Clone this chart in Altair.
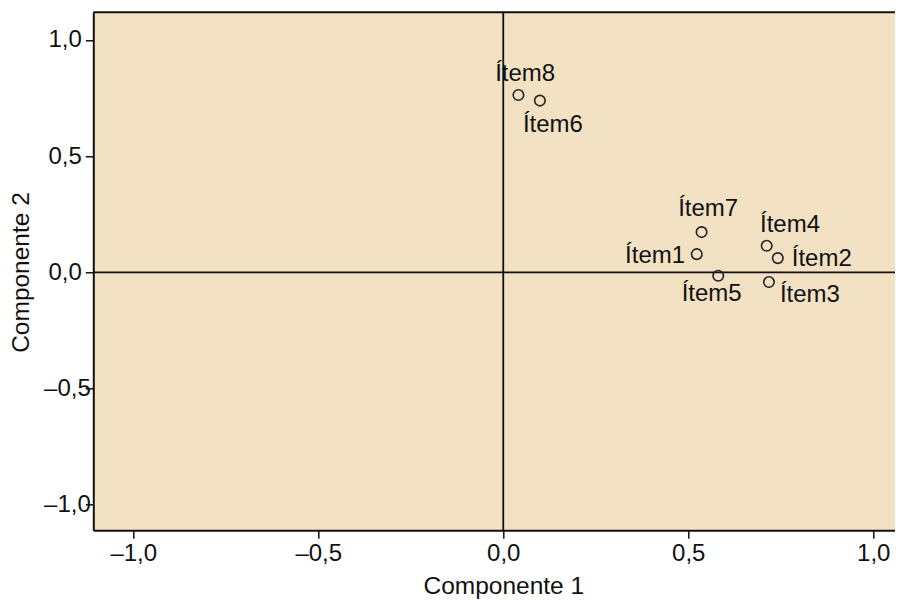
import altair as alt
import pandas as pd

# ---- data ----
items = ["Ítem1", "Ítem2", "Ítem3", "Ítem4", "Ítem5", "Ítem6", "Ítem7", "Ítem8"]
comp1 = [0.523, 0.742, 0.718, 0.712, 0.581, 0.099, 0.536, 0.041]
comp2 = [0.078, 0.061, -0.042, 0.114, -0.015, 0.739, 0.173, 0.763]
tick_values = [-1.0, -0.5, 0.0, 0.5, 1.0]

# label placement (pixel offsets of label left/baseline from the point)
label_offsets = {
    "Ítem1": (-71.7, 9.0),
    "Ítem2": (14.0, 7.7),
    "Ítem3": (11.0, 20.4),
    "Ítem4": (-6.7, -14.3),
    "Ítem5": (-36.6, 25.7),
    "Ítem6": (-17.0, 31.0),
    "Ítem7": (-23.4, -15.6),
    "Ítem8": (-23.3, -14.3),
}

df = pd.DataFrame({"item": items, "c1": comp1, "c2": comp2})

FONT = "Liberation Sans"
INK = "#111111"
BG = "#F3E1C3"
W, H = 802, 518

label_expr = "(datum.value < 0 ? '–' : '') + replace(format(abs(datum.value), '.1f'), '.', ',')"

x_axis = alt.Axis(
    values=tick_values, labelExpr=label_expr, grid=False,
    tickSize=8, tickWidth=1.5, tickColor=INK,
    domainColor=INK, domainWidth=2,
    labelFont=FONT, labelFontSize=24, labelColor=INK, labelPadding=3,
    title="Componente 1", titleFont=FONT, titleFontSize=24.5, titleFontWeight="normal",
    titleColor=INK, titleX=410, titleY=63.3, titleBaseline="alphabetic", titleAlign="center",
)
y_axis = alt.Axis(
    values=tick_values, labelExpr=label_expr, grid=False,
    tickSize=8, tickWidth=1.5, tickColor=INK,
    domainColor=INK, domainWidth=2,
    labelFont=FONT, labelFontSize=24, labelColor=INK,
    labelPadding={"condition": {"test": "datum.value < 0", "value": -5}, "value": 4},
    title="Componente 2", titleFont=FONT, titleFontSize=24.5, titleFontWeight="normal",
    titleColor=INK, titleAngle=270, titleX=-65, titleY=259.7,
    titleBaseline="alphabetic", titleAlign="center",
)
x_scale = alt.Scale(domain=[-1.108, -1.108 + W / 370.0], nice=False, zero=False)
y_scale = alt.Scale(domain=[-1.1105, 1.119], nice=False, zero=False)

X = alt.X("c1:Q", scale=x_scale, axis=x_axis)
Y = alt.Y("c2:Q", scale=y_scale, axis=y_axis)

base = alt.Chart(df)

vline = alt.Chart(pd.DataFrame({"c1": [0.0]})).mark_rule(color=INK, strokeWidth=1.8).encode(x=X)
hline = alt.Chart(pd.DataFrame({"c2": [0.0]})).mark_rule(color=INK, strokeWidth=1.8).encode(y=Y)
top_border = alt.Chart(pd.DataFrame({"c1": [0.0]})).mark_rule(color=INK, strokeWidth=2).encode(
    x=alt.value(0), x2=alt.value(W), y=alt.value(0)
)

points = base.mark_point(
    shape="circle", filled=False, size=110, stroke="#222222", strokeWidth=1.6, opacity=1
).encode(x=X, y=Y)

labels = []
for name in items:
    dx, dy = label_offsets[name]
    labels.append(
        base.transform_filter(alt.datum.item == name)
        .mark_text(align="left", baseline="alphabetic", dx=dx, dy=dy,
                   font=FONT, fontSize=24, color=INK)
        .encode(x=X, y=Y, text="item:N")
    )

chart = alt.layer(vline, hline, top_border, points, *labels).properties(
    width=W, height=H,
    autosize=alt.AutoSizeParams(type="none"),
    padding={"left": 85.3, "top": 4.3, "right": 0, "bottom": 69.7},
).configure_view(fill=BG, stroke="transparent")

chart.save("out.html", embed_options={"renderer": "svg", "actions": False})
